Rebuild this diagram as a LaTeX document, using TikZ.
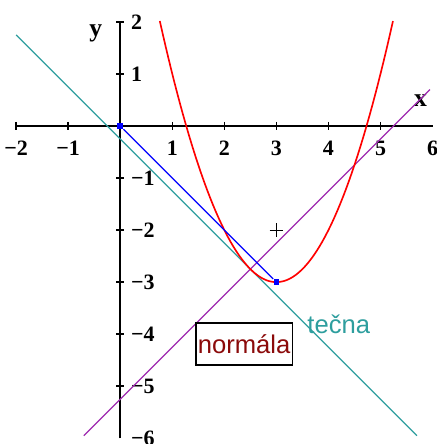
\documentclass[tikz,border=0pt]{standalone}
\usepackage{fontspec}
\setmainfont{Liberation Serif}
\setsansfont{Liberation Sans}
\usetikzlibrary{positioning, calc}
\definecolor{tecnateal}{HTML}{2E9E9E}
\definecolor{normpurple}{HTML}{9E2AB0}
\definecolor{normred}{HTML}{8B0A0A}

\begin{document}
\begin{tikzpicture}[
    every node/.style={font=\fontsize{12}{14}\selectfont\bfseries},
    axis/.style={line width=1.1pt, black},
    ticklab/.style={inner sep=0pt},
    fline/.style={line width=0.6pt},
    bdot/.style={fill=blue, inner sep=0pt, minimum size=0.11cm},
    lbl/.style={font=\sffamily\fontsize{14}{16}\selectfont, inner sep=0pt},
  ]
  \useasboundingbox (-2.31,-6.11) rectangle (6.08,2.42);

  % axes and ticks
  \draw[axis] (-2,0) -- (6,0);
  \draw[axis] (0,-6) -- (0,2);
  \foreach \x in {-2,-1,1,2,3,4,5}
    \draw[axis, line width=0.8pt] (\x,0.08) -- (\x,-0.08);
  \foreach \y in {-5,...,-1,1,2}
    \draw[axis, line width=0.8pt] (-0.08,\y) -- (0.08,\y);
  \foreach \x/\t in {-2/{−2},-1/{−1},1/1,2/2,3/3,4/4,5/5,6/6}
    \node[ticklab, anchor=north] (xt\x) at (\x,-0.29) {\t};
  \foreach \y/\t in {2/2,1/1,-1/{−1},-2/{−2},-3/{−3},-4/{−4},-5/{−5},-6/{−6}}
    \node[ticklab, anchor=west] (yt\y) at (0.2,\y) {\t};
  \node[font=\fontsize{14}{16}\selectfont\bfseries] (ylab) at (-0.47,1.78) {y};
  \node[font=\fontsize{14}{16}\selectfont\bfseries] (xlab) at (5.77,0.48) {x};

  % tangent, normal, parabola
  \coordinate (t1) at (-2,1.75);
  \coordinate (t2) at (5.7,-5.95);
  \coordinate (n1) at (-0.7,-5.95);
  \coordinate (n2) at (5.95,0.7);
  \draw[tecnateal, fline] (t1) -- (t2);
  \draw[normpurple, fline] (n1) -- (n2);
  \draw[red, line width=0.9pt, domain=0.76:5.24, samples=80]
    plot (\x, {(\x-3)^2-3});

  % distance from origin to vertex
  \node[bdot] (O) at (0,0) {};
  \node[bdot] (V) at (3,-3) {};
  \draw[blue, fline] (O) -- (V);

  \coordinate (P) at (3,-2);
  \draw[line width=0.6pt] ($(P)+(-0.13,0)$) -- ($(P)+(0.13,0)$)
    ($(P)+(0,-0.13)$) -- ($(P)+(0,0.13)$);

  \node[lbl, text=tecnateal, anchor=base west] (tecna) at (3.59,-3.98) {tečna};
  \node[lbl, text=normred, draw=black, fill=white, line width=0.8pt,
        minimum width=1.85cm, minimum height=0.81cm] (normala) at (2.38,-4.19) {normála};
\end{tikzpicture}
\end{document}
